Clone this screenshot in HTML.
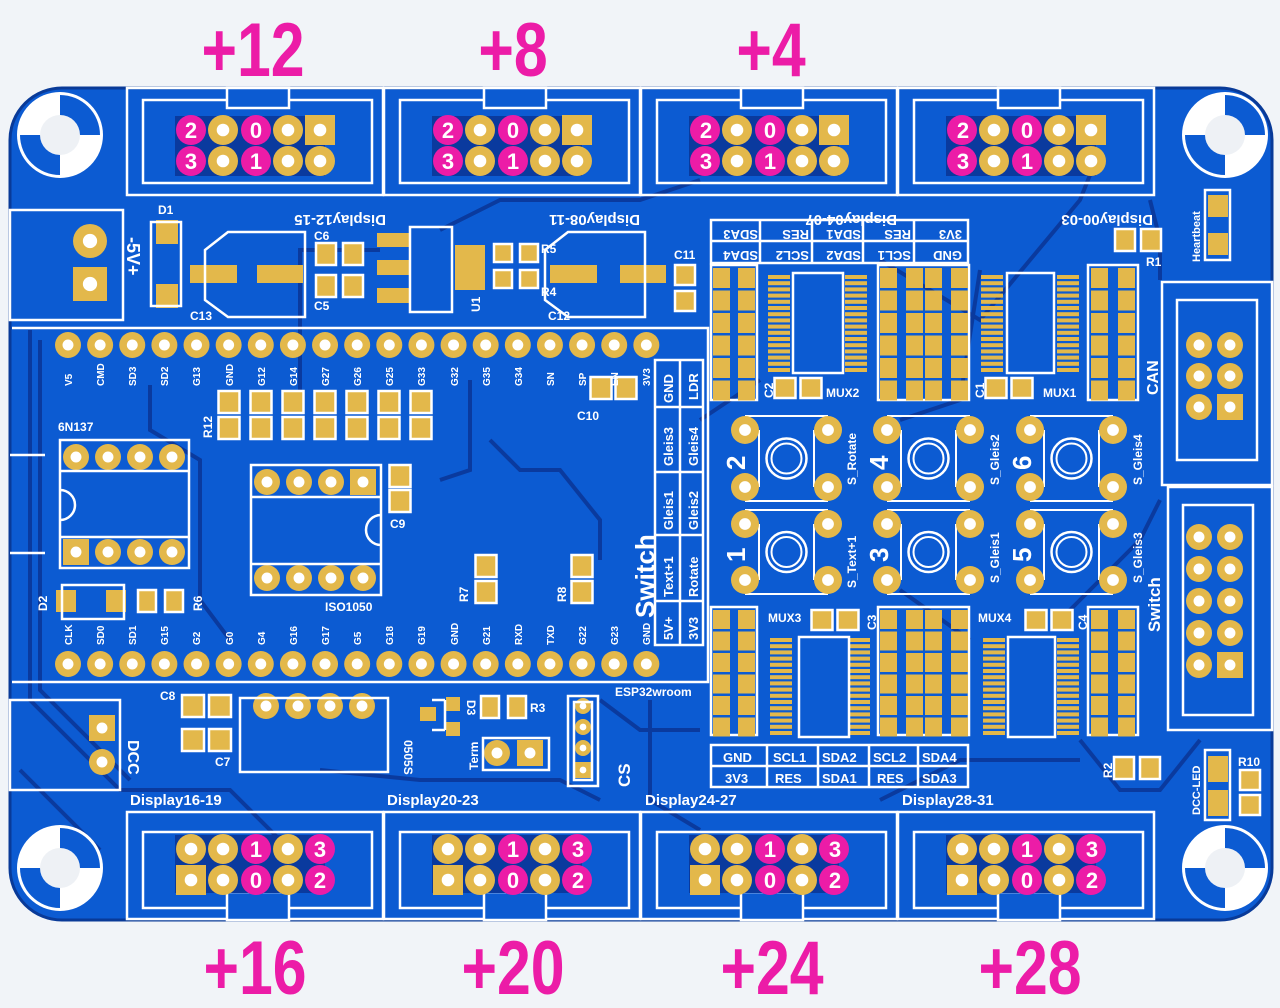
<!DOCTYPE html>
<html><head><meta charset="utf-8"><style>
html,body{margin:0;padding:0;background:#f1f4f8;}
svg{display:block}
.s{fill:#fff;font-family:"Liberation Sans",sans-serif;font-weight:bold}
.m{fill:#ec1ca7;font-family:"Liberation Sans",sans-serif;font-weight:bold}
</style></head><body>
<svg id="pcb" width="1280" height="1008" viewBox="0 0 1280 1008" xmlns="http://www.w3.org/2000/svg">
<rect width="1280" height="1008" fill="#f1f4f8"/>
<rect x="10" y="88" width="1262" height="832" rx="52" fill="#0c5bd2" stroke="#093a98" stroke-width="3"/>
<g id="traces" fill="none" stroke="#0a3a9e" stroke-width="4">
<path d="M30 330 V700 L120 790 L230 790 L300 860"/>
<path d="M40 340 V690 L130 780"/>
<path d="M150 385 V430 L200 460 V600 L230 640"/>
<path d="M300 400 V250 L380 250"/>
<path d="M490 440 L520 470 H560 L600 520 V560"/>
<path d="M440 480 L470 470 V380"/>
<path d="M700 420 L760 380"/>
<path d="M880 260 L980 320 L1080 200 L1100 150"/>
<path d="M1150 200 L1160 240 V280"/>
<path d="M900 590 L970 640"/>
<path d="M1060 620 L1140 540 L1160 500"/>
<path d="M1080 740 L1120 790 L1160 790 L1200 740"/>
<path d="M20 770 L100 850"/>
<path d="M600 700 L640 730 L700 730"/>
<path d="M320 770 L420 780 L560 780 L600 800"/>
<path d="M880 800 L960 760 L1080 760"/>
<path d="M440 230 L500 200 L640 200 L700 180"/>
<path d="M650 700 V800 L700 830"/>
<path d="M980 270 L960 400 L900 420"/>
</g>
<g id="gen"></g>
<g fill="none" stroke="#fff" stroke-width="2.5">
<rect x="10" y="210" width="113" height="110"/>
<rect x="151" y="222" width="30" height="84"/>
<path d="M228 232 H305 V317 H228 L205 300 V250 Z"/>
<path d="M568 232 H645 V317 H568 L545 300 V250 Z"/>
<rect x="410" y="227" width="42" height="85"/>
<path d="M12 328 H708 V682 H12"/>
<rect x="655" y="360" width="48" height="285"/>
<line x1="680" y1="360" x2="680" y2="645"/>
<line x1="655" y1="407" x2="703" y2="407"/><line x1="655" y1="472" x2="703" y2="472"/>
<line x1="655" y1="535" x2="703" y2="535"/><line x1="655" y1="601" x2="703" y2="601"/>
<rect x="60" y="440" width="129" height="128"/>
<line x1="60" y1="471" x2="189" y2="471"/><line x1="60" y1="537" x2="189" y2="537"/>
<path d="M60 490 A15 15 0 0 1 60 520"/>
<line x1="10" y1="455" x2="45" y2="455"/><line x1="10" y1="553" x2="45" y2="553"/>
<rect x="251" y="465" width="130" height="130"/>
<line x1="251" y1="497" x2="381" y2="497"/><line x1="251" y1="564" x2="381" y2="564"/>
<path d="M381 515 A15 15 0 0 0 381 545"/>
<rect x="62" y="585" width="62" height="34"/>
<rect x="10" y="700" width="110" height="90"/>
<rect x="240" y="698" width="148" height="74"/>
<rect x="483" y="738" width="66" height="32"/>
<rect x="568" y="696" width="30" height="90"/>
<rect x="574" y="702" width="18" height="78"/>
<path d="M432 700 H445 M432 730 H445 M445 700 V730"/>
<rect x="711" y="220" width="257" height="43"/>
<line x1="711" y1="241" x2="968" y2="241"/>
<line x1="760" y1="220" x2="760" y2="263"/><line x1="812" y1="220" x2="812" y2="263"/><line x1="863" y1="220" x2="863" y2="263"/><line x1="914" y1="220" x2="914" y2="263"/>
<rect x="711" y="745" width="257" height="42"/>
<line x1="711" y1="766" x2="968" y2="766"/>
<line x1="767" y1="745" x2="767" y2="787"/><line x1="818" y1="745" x2="818" y2="787"/><line x1="869" y1="745" x2="869" y2="787"/><line x1="918" y1="745" x2="918" y2="787"/>
<rect x="793" y="273" width="50" height="100"/>
<rect x="1007" y="273" width="47" height="100"/>
<rect x="799" y="637" width="50" height="100"/>
<rect x="1008" y="637" width="47" height="100"/>
<rect x="1162" y="282" width="110" height="203"/>
<rect x="1177" y="300" width="80" height="160"/>
<rect x="1168" y="487" width="104" height="243"/>
<rect x="1183" y="505" width="70" height="210"/>
<rect x="1205" y="190" width="25" height="70"/>
<rect x="1205" y="750" width="25" height="70"/>
</g>
<g class="s" font-size="15">
<text transform="translate(386,215) rotate(180)">Display12-15</text>
<text transform="translate(640,215) rotate(180)">Display08-11</text>
<text transform="translate(897,215) rotate(180)">Display04-07</text>
<text transform="translate(1153,215) rotate(180)">Display00-03</text>
<text x="130" y="805">Display16-19</text>
<text x="387" y="805">Display20-23</text>
<text x="645" y="805">Display24-27</text>
<text x="902" y="805">Display28-31</text>
</g>
<g class="s" font-size="13">
<text transform="translate(758,230) rotate(180)" font-size="13">SDA3</text>
<text transform="translate(809,230) rotate(180)">RES</text>
<text transform="translate(861,230) rotate(180)">SDA1</text>
<text transform="translate(911,230) rotate(180)">RES</text>
<text transform="translate(962,230) rotate(180)">3V3</text>
<text transform="translate(758,251) rotate(180)">SDA4</text>
<text transform="translate(809,251) rotate(180)">SCL2</text>
<text transform="translate(861,251) rotate(180)">SDA2</text>
<text transform="translate(911,251) rotate(180)">SCL1</text>
<text transform="translate(962,251) rotate(180)">GND</text>
<text x="723" y="762">GND</text><text x="773" y="762">SCL1</text><text x="822" y="762">SDA2</text><text x="873" y="762">SCL2</text><text x="922" y="762">SDA4</text>
<text x="725" y="783">3V3</text><text x="775" y="783">RES</text><text x="822" y="783">SDA1</text><text x="877" y="783">RES</text><text x="922" y="783">SDA3</text>
</g>
<g class="s" font-size="12">
<text x="158" y="214">D1</text><text x="190" y="320">C13</text>
<text x="314" y="240">C6</text><text x="314" y="310">C5</text>
<text x="541" y="253">R5</text><text x="541" y="296">R4</text>
<text x="548" y="320">C12</text><text x="674" y="259">C11</text>
<text transform="translate(480,312) rotate(-90)">U1</text>
<text x="58" y="431">6N137</text><text x="577" y="420">C10</text>
<text x="390" y="528">C9</text><text x="325" y="611">ISO1050</text>
<text transform="translate(212,438) rotate(-90)">R12</text>
<text transform="translate(47,611) rotate(-90)">D2</text>
<text transform="translate(202,611) rotate(-90)">R6</text>
<text transform="translate(468,602) rotate(-90)">R7</text>
<text transform="translate(566,602) rotate(-90)">R8</text>
<text x="615" y="696">ESP32wroom</text>
<text x="160" y="700">C8</text><text x="215" y="766">C7</text>
<text transform="translate(404,740) rotate(90)">0505S</text>
<text transform="translate(467,700) rotate(90)">D3</text>
<text x="530" y="712">R3</text>
<text transform="translate(478,770) rotate(-90)">Term</text>
<text transform="translate(630,787) rotate(-90)" font-size="17">CS</text>
<text transform="translate(128,740) rotate(90)" font-size="16">DCC</text>
<text x="826" y="397">MUX2</text><text x="1043" y="397">MUX1</text>
<text x="768" y="622">MUX3</text><text x="978" y="622">MUX4</text>
<text transform="translate(773,398) rotate(-90)">C2</text>
<text transform="translate(984,398) rotate(-90)">C1</text>
<text transform="translate(876,630) rotate(-90)">C3</text>
<text transform="translate(1087,630) rotate(-90)">C4</text>
<text x="1146" y="266">R1</text>
<text transform="translate(1200,262) rotate(-90)" font-size="11">Heartbeat</text>
<text transform="translate(1112,778) rotate(-90)">R2</text>
<text transform="translate(1200,815) rotate(-90)" font-size="11">DCC-LED</text>
<text x="1238" y="766">R10</text>
<text transform="translate(1158,395) rotate(-90)" font-size="16">CAN</text>
<text transform="translate(1160,632) rotate(-90)" font-size="17">Switch</text>
<text transform="translate(856,485) rotate(-90)">S_Rotate</text>
<text transform="translate(999,485) rotate(-90)">S_Gleis2</text>
<text transform="translate(1142,485) rotate(-90)">S_Gleis4</text>
<text transform="translate(856,588) rotate(-90)">S_Text+1</text>
<text transform="translate(999,583) rotate(-90)">S_Gleis1</text>
<text transform="translate(1142,583) rotate(-90)">S_Gleis3</text>
</g>
<g class="s" font-size="26" font-weight="normal">
<text transform="translate(745,470) rotate(-90)">2</text>
<text transform="translate(888,470) rotate(-90)">4</text>
<text transform="translate(1031,470) rotate(-90)">6</text>
<text transform="translate(745,562) rotate(-90)">1</text>
<text transform="translate(888,562) rotate(-90)">3</text>
<text transform="translate(1031,562) rotate(-90)">5</text>
</g>
<text class="s" font-size="18" transform="translate(127,237) rotate(90)">-5V+</text>
<text class="s" font-size="26" font-weight="normal" transform="translate(654,618) rotate(-90)">Switch</text>
<g class="s" font-size="13">
<text transform="translate(673,403) rotate(-90)">GND</text><text transform="translate(698,400) rotate(-90)">LDR</text>
<text transform="translate(673,466) rotate(-90)">Gleis3</text><text transform="translate(698,466) rotate(-90)">Gleis4</text>
<text transform="translate(673,530) rotate(-90)">Gleis1</text><text transform="translate(698,530) rotate(-90)">Gleis2</text>
<text transform="translate(673,597) rotate(-90)">Text+1</text><text transform="translate(698,597) rotate(-90)">Rotate</text>
<text transform="translate(673,640) rotate(-90)">5V+</text><text transform="translate(698,640) rotate(-90)">3V3</text>
</g>
<g class="s" font-size="10">
<text transform="translate(72,386) rotate(-90)">V5</text>
<text transform="translate(104,386) rotate(-90)">CMD</text>
<text transform="translate(136,386) rotate(-90)">SD3</text>
<text transform="translate(168,386) rotate(-90)">SD2</text>
<text transform="translate(200,386) rotate(-90)">G13</text>
<text transform="translate(233,386) rotate(-90)">GND</text>
<text transform="translate(265,386) rotate(-90)">G12</text>
<text transform="translate(297,386) rotate(-90)">G14</text>
<text transform="translate(329,386) rotate(-90)">G27</text>
<text transform="translate(361,386) rotate(-90)">G26</text>
<text transform="translate(393,386) rotate(-90)">G25</text>
<text transform="translate(425,386) rotate(-90)">G33</text>
<text transform="translate(458,386) rotate(-90)">G32</text>
<text transform="translate(490,386) rotate(-90)">G35</text>
<text transform="translate(522,386) rotate(-90)">G34</text>
<text transform="translate(554,386) rotate(-90)">SN</text>
<text transform="translate(586,386) rotate(-90)">SP</text>
<text transform="translate(618,386) rotate(-90)">EN</text>
<text transform="translate(650,386) rotate(-90)">3V3</text>
<text transform="translate(72,645) rotate(-90)">CLK</text>
<text transform="translate(104,645) rotate(-90)">SD0</text>
<text transform="translate(136,645) rotate(-90)">SD1</text>
<text transform="translate(168,645) rotate(-90)">G15</text>
<text transform="translate(200,645) rotate(-90)">G2</text>
<text transform="translate(233,645) rotate(-90)">G0</text>
<text transform="translate(265,645) rotate(-90)">G4</text>
<text transform="translate(297,645) rotate(-90)">G16</text>
<text transform="translate(329,645) rotate(-90)">G17</text>
<text transform="translate(361,645) rotate(-90)">G5</text>
<text transform="translate(393,645) rotate(-90)">G18</text>
<text transform="translate(425,645) rotate(-90)">G19</text>
<text transform="translate(458,645) rotate(-90)">GND</text>
<text transform="translate(490,645) rotate(-90)">G21</text>
<text transform="translate(522,645) rotate(-90)">RXD</text>
<text transform="translate(554,645) rotate(-90)">TXD</text>
<text transform="translate(586,645) rotate(-90)">G22</text>
<text transform="translate(618,645) rotate(-90)">G23</text>
<text transform="translate(650,645) rotate(-90)">GND</text>
</g>
<g class="m" font-size="76" text-anchor="middle">
<text transform="translate(253,76) scale(0.8,1)">+12</text>
<text transform="translate(513,76) scale(0.8,1)">+8</text>
<text transform="translate(771,76) scale(0.8,1)">+4</text>
<text transform="translate(255,994) scale(0.8,1)">+16</text>
<text transform="translate(513,994) scale(0.8,1)">+20</text>
<text transform="translate(772,994) scale(0.8,1)">+24</text>
<text transform="translate(1030,994) scale(0.8,1)">+28</text>
</g>
<g font-family="Liberation Sans,sans-serif" font-weight="bold" font-size="22" fill="#fff" text-anchor="middle">
<text x="191" y="138">2</text><text x="256" y="138">0</text><text x="191" y="169">3</text><text x="256" y="169">1</text>
<text x="448" y="138">2</text><text x="513" y="138">0</text><text x="448" y="169">3</text><text x="513" y="169">1</text>
<text x="706" y="138">2</text><text x="770" y="138">0</text><text x="706" y="169">3</text><text x="770" y="169">1</text>
<text x="963" y="138">2</text><text x="1027" y="138">0</text><text x="963" y="169">3</text><text x="1027" y="169">1</text>
<text x="256" y="857">1</text><text x="320" y="857">3</text><text x="256" y="888">0</text><text x="320" y="888">2</text>
<text x="513" y="857">1</text><text x="578" y="857">3</text><text x="513" y="888">0</text><text x="578" y="888">2</text>
<text x="770" y="857">1</text><text x="835" y="857">3</text><text x="770" y="888">0</text><text x="835" y="888">2</text>
<text x="1027" y="857">1</text><text x="1092" y="857">3</text><text x="1027" y="888">0</text><text x="1092" y="888">2</text>
</g>
</svg>
<script>
(function(){
var NS="http://www.w3.org/2000/svg",g=document.getElementById("gen");
var G="#e3b84b",W="#fff",D="#0a3a9e";
function el(t,a){var e=document.createElementNS(NS,t);for(var k in a)e.setAttribute(k,a[k]);g.appendChild(e);return e;}
function rect(x,y,w,h,f,s){var a={x:x,y:y,width:w,height:h,fill:f||"none"};if(s){a.stroke=s;a["stroke-width"]=2.5;}return el("rect",a);}
function circ(x,y,r,f,s,sw){var a={cx:x,cy:y,r:r,fill:f||"none"};if(s){a.stroke=s;a["stroke-width"]=sw||2.5;}return el("circle",a);}
function pad(x,y,r,sq){if(sq)rect(x-r,y-r,2*r,2*r,G);else circ(x,y,r,G);circ(x,y,r*0.42,W);}
function mag(x,y){circ(x,y,15,"#ec1ca7");}
function smd(cx,cy,w,h){rect(cx-w/2,cy-h/2,w,h,G,W);}
[[60,135],[1225,135],[60,868],[1225,868]].forEach(function(p){
 var x=p[0],y=p[1];circ(x,y,43,W);
 el("path",{d:"M"+x+" "+y+" L"+(x+40)+" "+y+" A40 40 0 0 0 "+x+" "+(y-40)+"Z",fill:"#0c5bd2"});
 el("path",{d:"M"+x+" "+y+" L"+(x-40)+" "+y+" A40 40 0 0 0 "+x+" "+(y+40)+"Z",fill:"#0c5bd2"});
 circ(x,y,20,"#eef1f5");});
function conn(x0,top){
 var fy=top?88:812,fh=107;
 rect(x0,fy,256,fh,null,W);
 var iy=top?100:832;rect(x0+16,iy,229,top?83:76,null,W);
 rect(x0+100,top?88:892,62,top?20:28,"#0c5bd2",W);
 rect(x0+48,top?116:835,150,top?60:58,D);
 var xs=[0,32,65,97,129].map(function(d){return x0+64+d;});
 var r1=top?130:849,r2=top?161:880;
 xs.forEach(function(x,i){
  var m=top?(i==0||i==2):(i==2||i==4);
  if(m)mag(x,r1);else pad(x,r1,15,top&&i==4);
  if(m)mag(x,r2);else pad(x,r2,15,!top&&i==0);
 });}
[127,384,641,898].forEach(function(x){conn(x,true);conn(x,false);});
pad(90,241,17);pad(90,284,17,true);
rect(156,220,22,24,G);rect(156,284,22,24,G);
rect(190,265,47,18,G);rect(257,265,46,18,G);
rect(550,265,47,18,G);rect(620,265,46,18,G);
smd(326,254,20,22);smd(353,254,20,22);smd(326,286,20,22);smd(353,286,20,22);
rect(377,233,33,14,G);rect(377,260,33,15,G);rect(377,288,33,15,G);
rect(455,245,30,45,G);
smd(503,253,18,18);smd(529,253,18,18);smd(503,279,18,18);smd(529,279,18,18);
smd(685,275,20,20);smd(685,301,20,20);
for(var i=0;i<19;i++){var x=68+i*32.13;pad(x,345,13);pad(x,664,13);}
[229,261,293,325,357,389,421].forEach(function(x){smd(x,402,21,22);smd(x,428,21,22);});
smd(601,388,21,22);smd(626,388,21,22);
[76,108,140,172].forEach(function(x,i){pad(x,457,13);pad(x,552,13,i==0);});
[267,299,331,363].forEach(function(x,i){pad(x,482,13,i==3);pad(x,578,13);});
smd(400,476,21,22);smd(400,501,21,22);
smd(486,566,21,22);smd(486,592,21,22);smd(582,566,21,22);smd(582,592,21,22);
rect(56,590,20,22,G);rect(106,590,20,22,G);smd(147,601,18,22);smd(174,601,18,22);
pad(102,728,13,true);pad(102,762,13);
smd(193,706,22,22);smd(220,706,22,22);smd(193,740,22,22);smd(220,740,22,22);
[266,298,330,362].forEach(function(x){pad(x,706,13);});
rect(420,707,16,14,G);rect(446,697,14,14,G);rect(446,722,14,14,G);
smd(490,707,18,22);smd(517,707,18,22);
pad(497,753,13);pad(530,753,13,true);
[706,727,748,770].forEach(function(y,i){pad(583,y,8,i==3);});
function strip(xs,y0,n,h,step){xs.forEach(function(x){for(var k=0;k<n;k++)rect(x,y0+k*step,17,h,G);});}
rect(711,265,46,135,null,W);strip([713,738],268,6,20,22.5);
rect(878,265,91,135,null,W);strip([880,906,925,951],268,6,20,22.5);
rect(1088,265,50,135,null,W);strip([1091,1118],268,6,20,22.5);
rect(711,607,46,128,null,W);strip([713,738],610,6,19,21.5);
rect(878,607,91,128,null,W);strip([880,906,925,951],610,6,19,21.5);
rect(1088,607,50,128,null,W);strip([1091,1118],610,6,19,21.5);
function soic(xl,xr,y0){for(var k=0;k<16;k++){rect(xl,y0+k*6.2,22,4,G);rect(xr,y0+k*6.2,22,4,G);}}
soic(768,845,275);soic(981,1057,275);soic(770,848,638);soic(983,1057,638);
smd(785,388,21,20);smd(811,388,21,20);smd(996,388,21,20);smd(1022,388,21,20);
smd(822,620,21,20);smd(848,620,21,20);smd(1036,620,21,20);smd(1062,620,21,20);
[[745,430,828,487],[887,430,970,487],[1030,430,1113,487],[745,524,828,580],[887,524,970,580],[1030,524,1113,580]].forEach(function(b){
 el("line",{x1:b[0],y1:b[1]-14,x2:b[2],y2:b[1]-14,stroke:W,"stroke-width":2});
 el("line",{x1:b[0],y1:b[3]+14,x2:b[2],y2:b[3]+14,stroke:W,"stroke-width":2});
 el("line",{x1:b[0]+14,y1:b[1],x2:b[0]+14,y2:b[3],stroke:W,"stroke-width":2});
 el("line",{x1:b[2]-14,y1:b[1],x2:b[2]-14,y2:b[3],stroke:W,"stroke-width":2});
 pad(b[0],b[1],14);pad(b[2],b[1],14);pad(b[0],b[3],14);pad(b[2],b[3],14);
 var cx=(b[0]+b[2])/2,cy=(b[1]+b[3])/2;circ(cx,cy,20,null,W,2.5);circ(cx,cy,15,null,W,2);
});
[[345,0],[376,0],[407,1]].forEach(function(p){pad(1199,p[0],13);pad(1230,p[0],13,p[1]);});
[537,569,601,633,665].forEach(function(y,i){pad(1199,y,13);pad(1230,y,13,i==4);});
smd(1125,240,20,22);smd(1151,240,20,22);
rect(1208,195,20,22,G);rect(1208,233,20,22,G);
smd(1124,768,20,22);smd(1150,768,20,22);
rect(1208,756,20,26,G);rect(1208,790,20,26,G);
smd(1250,780,20,20);smd(1250,805,20,20);
})();
</script>
</body></html>
